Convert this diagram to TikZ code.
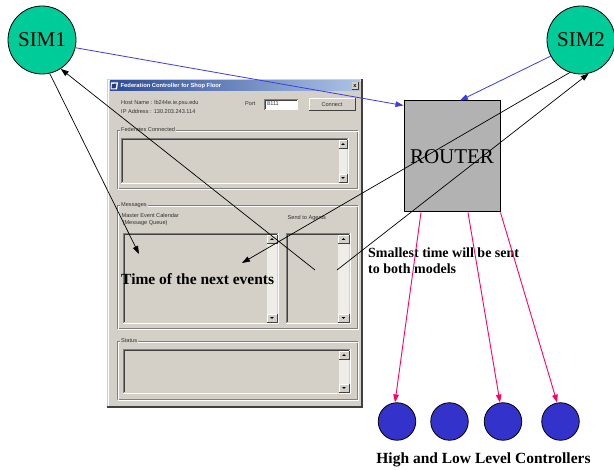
\documentclass[tikz,border=0pt]{standalone}
\usepackage{fontspec}
\setmainfont{Liberation Serif}
\newfontfamily\uifont{Liberation Sans}
\usetikzlibrary{arrows.meta,calc}

\definecolor{simgreen}{RGB}{0,204,153}
\definecolor{ctrlblue}{RGB}{51,51,204}
\definecolor{linkblue}{RGB}{60,60,230}
\definecolor{linkpink}{RGB}{255,0,102}
\definecolor{routergray}{RGB}{178,178,178}
\definecolor{face}{RGB}{212,208,200}
\definecolor{midedge}{RGB}{128,128,128}
\definecolor{darkedge}{RGB}{64,64,64}
\definecolor{track}{RGB}{238,237,232}
\definecolor{titleA}{RGB}{45,75,150}
\definecolor{titleB}{RGB}{172,195,230}
\definecolor{uitext}{RGB}{50,50,50}

\tikzset{
  sim/.style={circle, draw=black, line width=0.8pt, fill=simgreen,
    minimum size=68pt, inner sep=0pt, font=\rmfamily\fontsize{21}{24}\selectfont},
  ctrl/.style={circle, draw=black, line width=0.8pt, fill=ctrlblue,
    minimum size=37.5pt, inner sep=0pt},
  routerbox/.style={rectangle, draw=black, line width=1pt, fill=routergray,
    minimum width=96pt, minimum height=111pt, inner sep=0pt,
    font=\rmfamily\fontsize{21}{24}\selectfont},
  callout/.style={font=\rmfamily\bfseries\fontsize{15.5}{18}\selectfont, inner sep=0pt},
  tip/.style={-{Triangle[length=8pt,width=5.5pt]}},
  msgarrow/.style={draw=black, line width=0.7pt, tip},
  bluelink/.style={draw=linkblue, line width=0.8pt, tip},
  pinklink/.style={draw=linkpink, line width=0.9pt, tip},
  ui/.style={font=\uifont\fontsize{5.6}{6.5}\selectfont, text=uitext,
    inner sep=0pt, anchor=west},
}

% sunken list box: #1,#2 top left, #3,#4 bottom right
\newcommand\uiSunken[4]{%
  \fill[face] (#1,#2) rectangle (#3,#4);
  \draw[midedge, line width=0.8pt] (#1,#4) -- (#1,#2) -- (#3,#2);
  \draw[darkedge, line width=0.8pt] (#1+1,#4-1) -- (#1+1,#2+1) -- (#3-1,#2+1);
  \draw[white, line width=0.8pt] (#1,#4) -- (#3,#4) -- (#3,#2);
}
% vertical scroll bar with its two arrow buttons
\newcommand\uiScroll[4]{%
  \fill[track] (#1,#2) rectangle (#3,#4);
  \foreach \yy/\dir in {#2/1,#4-8/-1}{%
    \fill[face] (#1,\yy) rectangle (#3,\yy+8);
    \draw[white, line width=0.5pt] (#1,\yy+8) -- (#1,\yy) -- (#3,\yy);
    \draw[darkedge, line width=0.5pt] (#1,\yy+8) -- (#3,\yy+8) -- (#3,\yy);
    \fill[black] ({(#1+#3)/2-1.8},\yy+4+\dir*0.9) -- ({(#1+#3)/2+1.8},\yy+4+\dir*0.9)
      -- ({(#1+#3)/2},\yy+4-\dir*1.0) -- cycle;
  }
}
% etched group frame with its caption
\newcommand\uiGroup[5]{%
  \draw[midedge, line width=0.6pt] (#1,#2) rectangle (#3,#4);
  \draw[white, line width=0.6pt] (#1+1,#2+1) rectangle (#3+1,#4+1);
  \node[ui, fill=face, inner xsep=1pt, inner ysep=0.5pt] at (#1+3,#2) {#5};
}

\begin{document}
\begin{tikzpicture}[x=1pt,y=-1pt]
\useasboundingbox (0,0) rectangle (614,470);
\fill[white] (0,0) rectangle (614,470);

% ---------- controller window ----------
\fill[face] (107,79) rectangle (362,407);
\draw[white, line width=0.8pt] (108,406) -- (108,80) -- (361,80);
\draw[darkedge, line width=1.2pt] (107,407) -- (362,407) -- (362,79);
\shade[left color=titleA, right color=titleB] (110,81) rectangle (360,91);
% window icon
\fill[white] (111,82.5) -- (118,82.5) -- (117,89.5) -- (110.5,89.5) -- cycle;
\fill[titleA!80!black] (112,84) -- (116.5,83.5) -- (115.5,88.5) -- (111.5,88.5) -- cycle;
\node[ui, text=white, font=\uifont\bfseries\fontsize{5.8}{6.5}\selectfont]
  (title) at (120.5,86) {Federation Controller for Shop Floor};
% close button
\fill[face] (351.5,82.5) rectangle (358.5,89.5);
\draw[darkedge, line width=0.4pt] (351.5,89.5) -- (358.5,89.5) -- (358.5,82.5);
\node[font=\uifont\bfseries\fontsize{5.5}{6}\selectfont, inner sep=0pt] (closex) at (355,86) {x};

\node[ui] (host) at (121,103) {Host Name : lb244e.ie.psu.edu};
\node[ui] (ip) at (121,112) {IP Address : 130.203.243.114};
\node[ui] (port) at (245,103.5) {Port};
\fill[white] (264,99) rectangle (298,110);
\draw[midedge, line width=0.8pt] (264,110) -- (264,99) -- (298,99);
\draw[darkedge, line width=0.6pt] (265,109) -- (265,100) -- (297,100);
\node[ui] (portnum) at (267,104) {8111};
% connect button
\fill[face] (309,98) rectangle (355,111);
\draw[white, line width=0.8pt] (309.5,110.5) -- (309.5,98.5) -- (354.5,98.5);
\draw[darkedge, line width=1pt] (309,111) -- (355,111) -- (355,98);
\node[ui, anchor=center] (connect) at (332,104.5) {Connect};

\uiGroup{117}{130}{357}{188}{Federates Connected}
\uiSunken{121}{138}{348}{183}
\uiScroll{339}{140}{347}{182}

\uiGroup{117}{205}{357}{328}{Messages}
\node[ui] (mec) at (121.5,216) {Master Event Calendar};
\node[ui] (mq) at (122.5,223) {(Message Queue)};
\node[ui] (sta) at (287.5,218) {Send to Agents};
\uiSunken{123}{233}{278}{323}
\uiScroll{267}{235}{277}{322}
\uiSunken{286}{233}{350}{323}
\uiScroll{338}{235}{349}{322}

\uiGroup{117}{341}{357}{399}{Status}
\uiSunken{123}{349}{350}{393}
\uiScroll{339}{351}{349}{392}

% ---------- federation nodes ----------
\node[sim] (sim1) at (42,40) {SIM1};
\node[sim] (sim2) at (581,40) {SIM2};
\node[routerbox] (router) at (452,156.5) {ROUTER};
\node[ctrl] (c1) at (397,421.5) {};
\node[ctrl] (c2) at (449.5,421.5) {};
\node[ctrl] (c3) at (503,421.5) {};
\node[ctrl] (c4) at (560.5,421.5) {};

\node[callout, anchor=west] (nextev) at (121,279) {Time of the next events};
\node[callout, anchor=west, align=left, font=\rmfamily\bfseries\fontsize{14}{16}\selectfont]
  (smallest) at (368,260.5) {Smallest time will be sent\\to both models};
\node[callout] (ctrllabel) at (483.5,460) {High and Low Level Controllers};

% ---------- connectors ----------
\coordinate (calTip) at (139,254);
\coordinate (queueTail) at (315,270);
\coordinate (evtTip) at (242,263);
\coordinate (agentTail) at (337,270);

\draw[bluelink] (sim1.-13) -- ($(router.north west)+(0,5)$);
\draw[bluelink] (sim2.-152) -- ($(router.north)+(8,0)$);

\draw[msgarrow] (sim1.-77) -- (calTip);
\draw[msgarrow] (queueTail) -- (sim1.-57);
\draw[msgarrow] (sim2.-109) -- (evtTip);
\draw[msgarrow] (agentTail) -- (sim2.-77);

\draw[pinklink] ($(router.south)+(-31,0)$) -- (c1.96);
\draw[pinklink] ($(router.south)+(16,0)$) -- (c3.99);
\draw[pinklink] (router.south east) -- (c4.100);
\end{tikzpicture}
\end{document}
